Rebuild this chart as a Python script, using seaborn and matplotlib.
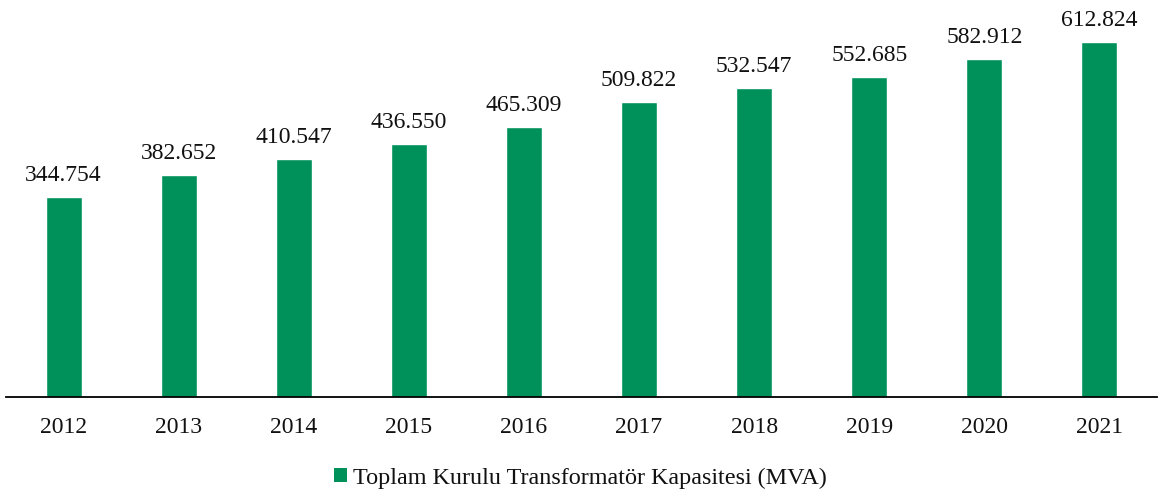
import matplotlib
matplotlib.use("Agg")
import matplotlib.pyplot as plt
import seaborn as sns
import pandas as pd
from matplotlib.patches import Patch

years = ["2012", "2013", "2014", "2015", "2016", "2017", "2018", "2019", "2020", "2021"]
capacity = [344754, 382652, 410547, 436550, 465309, 509822, 532547, 552685, 582912, 612824]
series_name = "Toplam Kurulu Transformatör Kapasitesi (MVA)"
green = "#00915A"

sns.set_theme(style="white")
plt.rcParams["font.family"] = ["Liberation Serif", "DejaVu Serif"]

df = pd.DataFrame({"Yıl": years, "Kapasite": capacity})

fig = plt.figure(figsize=(11.61, 4.93), dpi=100)
ax = fig.add_axes([6 / 1161, (493 - 397) / 493, 1151 / 1161, 387 / 493])
sns.barplot(data=df, x="Yıl", y="Kapasite", color=green, saturation=1, width=0.313, ax=ax)

ax.set_xlim(-0.5, 9.5)
ax.set_ylim(0, 668000)
ax.bar_label(ax.containers[0], fmt=lambda v: f"{v:,.0f}".replace(",", "."),
             padding=8, fontsize=17, color="#111111")

for s in ["left", "right", "top"]:
    ax.spines[s].set_visible(False)
ax.spines["bottom"].set_color("black")
ax.spines["bottom"].set_linewidth(1.3)
ax.set_yticks([])
ax.set_xlabel("")
ax.set_ylabel("")
ax.tick_params(axis="x", length=0, pad=14.5, labelsize=17, labelcolor="#111111")

handle = Patch(facecolor=green, edgecolor="none", label=series_name)
fig.legend(handles=[handle], loc="center", bbox_to_anchor=(0.5, 1 - 478 / 493),
           frameon=False, fontsize=17.4, handlelength=0.55, handleheight=0.55,
           handletextpad=0.25, labelcolor="#111111")

fig.savefig("out.png", dpi=100)
